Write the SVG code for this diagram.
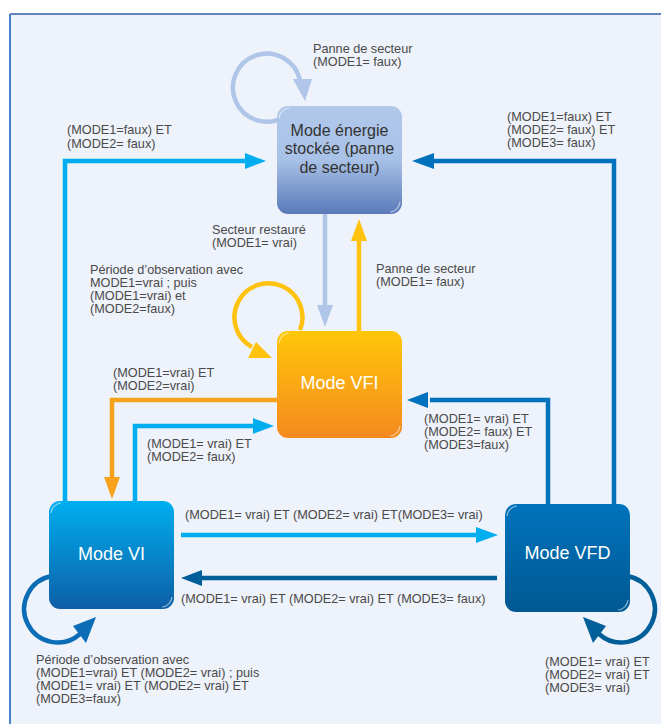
<svg xmlns="http://www.w3.org/2000/svg" width="661" height="724" viewBox="0 0 661 724">
<style>
.lbl{font-family:"Liberation Sans",Arial,sans-serif;font-size:12.7px;fill:#4a4a4a}
.nt{font-family:"Liberation Sans",Arial,sans-serif;text-anchor:middle}
.ln{fill:none;stroke-width:4.5;stroke-linejoin:miter}
.gl{fill:none;stroke:#fff;stroke-width:1.2;opacity:.55}
</style>
<defs>
<linearGradient id="gS" x1="0" y1="0" x2="0" y2="1"><stop offset="0" stop-color="#B0C8EA"/><stop offset="0.5" stop-color="#A8C1E6"/><stop offset="1" stop-color="#5A79B9"/></linearGradient>
<linearGradient id="gF" x1="0" y1="0" x2="0" y2="1"><stop offset="0" stop-color="#FFC709"/><stop offset="1" stop-color="#F5891F"/></linearGradient>
<linearGradient id="gI" x1="0" y1="0" x2="0" y2="1"><stop offset="0" stop-color="#00AEEF"/><stop offset="1" stop-color="#0D5FA6"/></linearGradient>
<linearGradient id="gD" x1="0" y1="0" x2="0" y2="1"><stop offset="0" stop-color="#0073BD"/><stop offset="1" stop-color="#005892"/></linearGradient>
</defs>
<rect width="661" height="724" fill="#fff"/>
<rect x="10" y="14" width="700" height="760" fill="#EEF2FA"/>
<line x1="10" y1="14" x2="661" y2="14" stroke="#2E5FA6" stroke-width="1.6"/>
<line x1="10" y1="14" x2="10" y2="724" stroke="#4680C6" stroke-width="2"/>

<g id="connectors">
  <!-- storage self loop -->
  <path class="ln" stroke="#AFC6E8" stroke-width="5" d="M284,117 A34,34 0 1 1 300,80"/>
  <polygon fill="#AFC6E8" points="293,79 312,79 305,101"/>
  <!-- VI -> storage -->
  <path class="ln" stroke="#00AEEF" d="M65,501 V161 H247"/>
  <polygon fill="#00AEEF" points="245,153 245,169 266,161"/>
  <!-- VFD -> storage -->
  <path class="ln" stroke="#0071BC" d="M614,504 V161 H432"/>
  <polygon fill="#0071BC" points="434,153 434,169 412,161"/>
  <!-- storage -> VFI -->
  <path class="ln" stroke="#AFC6E8" d="M325,214 V307"/>
  <polygon fill="#AFC6E8" points="317,305 333,305 325,327"/>
  <!-- VFI -> storage -->
  <path class="ln" stroke="#FFC20E" d="M359,331 V239"/>
  <polygon fill="#FFC20E" points="351,241 367,241 359,219"/>
  <!-- VFI self loop -->
  <path class="ln" stroke="#FFC20E" stroke-width="5" d="M300,330 A34,34 0 1 0 252,347"/>
  <polygon fill="#FFC20E" points="256,342 248,358 272,358"/>
  <!-- VFI -> VI -->
  <path class="ln" stroke="#F7A21B" d="M277,400 H112 V479"/>
  <polygon fill="#F7A21B" points="104,477 120,477 112,499"/>
  <!-- VI -> VFI -->
  <path class="ln" stroke="#00AEEF" d="M135,501 V426 H255"/>
  <polygon fill="#00AEEF" points="253,418 253,434 274,426"/>
  <!-- VFD -> VFI -->
  <path class="ln" stroke="#0071BC" d="M548,504 V400 H430"/>
  <polygon fill="#0071BC" points="428,392 428,408 407,400"/>
  <!-- VI -> VFD -->
  <path class="ln" stroke="#00AEEF" d="M181,535 H478"/>
  <polygon fill="#00AEEF" points="476,527 476,543 498,535"/>
  <!-- VFD -> VI -->
  <path class="ln" stroke="#005E98" d="M497,578 H200"/>
  <polygon fill="#005E98" points="202,570 202,586 181,578"/>
  <!-- VI self loop -->
  <path class="ln" stroke="#0A6DB5" stroke-width="5" d="M52,576 A33.5,33.5 0 1 0 80,634"/>
  <polygon fill="#0A6DB5" points="73,626 86,643 96,617"/>
  <!-- VFD self loop -->
  <path class="ln" stroke="#005E98" stroke-width="5" d="M627,576 A33.5,33.5 0 1 1 599,634"/>
  <polygon fill="#005E98" points="606,626 593,643 583,617"/>
</g>

<g id="node-storage">
  <rect x="277" y="106" width="125" height="108" rx="11" fill="url(#gS)"/>
  <path class="gl" d="M279,118 A11,11 0 0 1 289,108"/>
  <path class="gl" d="M400,202 A11,11 0 0 1 390,212"/>
  <text class="nt" x="339.5" y="136" font-size="16" fill="#333">Mode énergie</text>
  <text class="nt" x="339.5" y="154" font-size="16" fill="#333">stockée (panne</text>
  <text class="nt" x="339.5" y="172.5" font-size="16" fill="#333">de secteur)</text>
</g>
<g id="node-vfi">
  <rect x="277" y="331" width="125" height="107" rx="11" fill="url(#gF)"/>
  <path class="gl" d="M279,343 A11,11 0 0 1 289,333"/>
  <path class="gl" d="M400,426 A11,11 0 0 1 390,436"/>
  <text class="nt" x="339.5" y="389" font-size="18" fill="#fff">Mode VFI</text>
</g>
<g id="node-vi">
  <rect x="49" y="501" width="125" height="108" rx="11" fill="url(#gI)"/>
  <path class="gl" d="M51,513 A11,11 0 0 1 61,503"/>
  <path class="gl" d="M172,597 A11,11 0 0 1 162,607"/>
  <text class="nt" x="111.5" y="560" font-size="18" fill="#fff">Mode VI</text>
</g>
<g id="node-vfd">
  <rect x="505" y="504" width="125" height="108" rx="11" fill="url(#gD)"/>
  <path class="gl" d="M507,516 A11,11 0 0 1 517,506"/>
  <path class="gl" d="M628,600 A11,11 0 0 1 618,610"/>
  <text class="nt" x="567.5" y="559" font-size="18" fill="#fff">Mode VFD</text>
</g>

<g id="labels">
  <text class="lbl" x="313" y="53">Panne de secteur</text>
  <text class="lbl" x="313" y="66">(MODE1= faux)</text>

  <text class="lbl" x="67" y="134">(MODE1=faux) ET</text>
  <text class="lbl" x="67" y="148">(MODE2= faux)</text>

  <text class="lbl" x="507" y="121">(MODE1=faux) ET</text>
  <text class="lbl" x="507" y="134">(MODE2= faux) ET</text>
  <text class="lbl" x="507" y="147">(MODE3= faux)</text>

  <text class="lbl" x="212" y="234">Secteur restauré</text>
  <text class="lbl" x="212" y="247">(MODE1= vrai)</text>

  <text class="lbl" x="376" y="273">Panne de secteur</text>
  <text class="lbl" x="376" y="286">(MODE1= faux)</text>

  <text class="lbl" x="90" y="274">Période d’observation avec</text>
  <text class="lbl" x="90" y="287">MODE1=vrai ; puis</text>
  <text class="lbl" x="90" y="300">(MODE1=vrai) et</text>
  <text class="lbl" x="90" y="313">(MODE2=faux)</text>

  <text class="lbl" x="113" y="377">(MODE1=vrai) ET</text>
  <text class="lbl" x="113" y="390">(MODE2=vrai)</text>

  <text class="lbl" x="147" y="448">(MODE1= vrai) ET</text>
  <text class="lbl" x="147" y="461">(MODE2= faux)</text>

  <text class="lbl" x="424" y="423">(MODE1= vrai) ET</text>
  <text class="lbl" x="424" y="436">(MODE2= faux) ET</text>
  <text class="lbl" x="424" y="449">(MODE3=faux)</text>

  <text class="lbl" x="185" y="519">(MODE1= vrai) ET (MODE2= vrai) ET(MODE3= vrai)</text>
  <text class="lbl" x="181" y="603">(MODE1= vrai) ET (MODE2= vrai) ET (MODE3= faux)</text>

  <text class="lbl" x="36" y="664">Période d’observation avec</text>
  <text class="lbl" x="36" y="677">(MODE1=vrai) ET (MODE2= vrai) ; puis</text>
  <text class="lbl" x="36" y="690">(MODE1= vrai) ET (MODE2= vrai) ET</text>
  <text class="lbl" x="36" y="703">(MODE3=faux)</text>

  <text class="lbl" x="545" y="666">(MODE1= vrai) ET</text>
  <text class="lbl" x="545" y="679">(MODE2= vrai) ET</text>
  <text class="lbl" x="545" y="692">(MODE3= vrai)</text>
</g>
</svg>
